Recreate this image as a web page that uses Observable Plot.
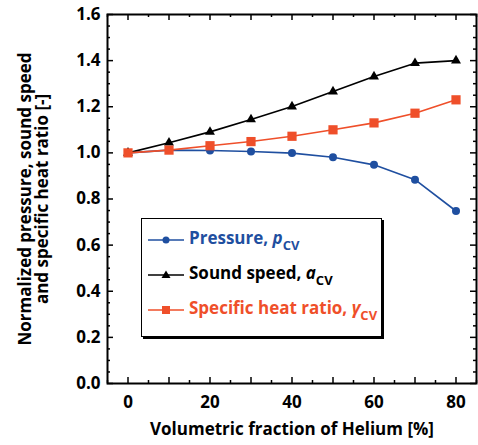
<!DOCTYPE html>
<html><head><meta charset="utf-8">
<script src="https://cdn.jsdelivr.net/npm/d3@7"></script>
<script src="https://cdn.jsdelivr.net/npm/@observablehq/plot@0.6"></script>
<style>
body{margin:0;background:#fff;}
#wrap{position:relative;width:478px;height:445px;font-family:"Open Sans",sans-serif;font-weight:700;}
#legend{position:absolute;left:141px;top:218px;width:239px;height:117px;border:1px solid #000;box-shadow:2px 2px 0 #000;background:#fff;}
.row{position:absolute;left:6px;height:26px;display:flex;align-items:center;font-size:17px;white-space:nowrap;}
.row svg{margin-right:5px;}
.row sub{font-size:13px;vertical-align:-6px;font-style:normal;}
.row i{font-style:italic;}
</style>
</head><body>
<div id="wrap"></div>
<script>
const helium = [0, 10, 20, 30, 40, 50, 60, 70, 80];
const pressure = [1.0, 1.012, 1.010, 1.006, 0.999, 0.981, 0.948, 0.884, 0.748];
const soundSpeed = [1.0, 1.044, 1.091, 1.145, 1.201, 1.266, 1.331, 1.389, 1.400];
const heatRatio = [1.0, 1.012, 1.031, 1.049, 1.072, 1.100, 1.130, 1.172, 1.230];
const xTickLabels = [0, 20, 40, 60, 80];
const yTickLabels = [0, 0.2, 0.4, 0.6, 0.8, 1.0, 1.2, 1.4, 1.6];
const seriesNames = ["Pressure", "Sound speed", "Specific heat ratio"];
const colors = {blue: "#1f4fa0", black: "#000000", red: "#ef4f2a"};

const W = 478, H = 445, mT = 14, mB = 62, mL = 107, mR = 2;
const innerH = H - mT - mB, innerW = W - mL - mR;

const rows = (vals) => helium.map((x, i) => ({x, y: vals[i]}));
const pData = rows(pressure), sData = rows(soundSpeed), hData = rows(heatRatio);

const xMajor = d3.range(0, 81, 10), xMinor = d3.range(-5, 86, 10);
const yMajor = d3.range(0, 9).map(v => +(v * 0.2).toFixed(2));
const yMinor = d3.range(0, 33).filter(v => v % 4 !== 0).map(v => +(v * 0.05).toFixed(2));

const tickStyle = {stroke: "black", strokeWidth: 1.5};
const plot = Plot.plot({
  width: W, height: H,
  marginTop: mT, marginBottom: mB, marginLeft: mL, marginRight: mR,
  style: {fontFamily: "'Open Sans', sans-serif", fontWeight: 700, fontSize: "17px", color: "black", background: "white"},
  x: {domain: [-5, 85]},
  y: {domain: [0, 1.6]},
  marks: [
    Plot.axisX(xTickLabels, {tickSize: 0, tickPadding: 12, fontSize: 17, fontWeight: 700, label: null}),
    Plot.axisY(yTickLabels, {tickSize: 0, tickPadding: 7, fontSize: 17, fontWeight: 700, label: null, tickFormat: d => d.toFixed(1)}),
    // inward ticks on all sides
    Plot.tickX(xMajor, {x: d => d, insetTop: innerH - 6, ...tickStyle}),
    Plot.tickX(xMajor, {x: d => d, insetBottom: innerH - 6, ...tickStyle}),
    Plot.tickX(xMinor, {x: d => d, insetTop: innerH - 3, ...tickStyle}),
    Plot.tickX(xMinor, {x: d => d, insetBottom: innerH - 3, ...tickStyle}),
    Plot.tickY(yMajor, {y: d => d, insetRight: innerW - 6, ...tickStyle}),
    Plot.tickY(yMajor, {y: d => d, insetLeft: innerW - 6, ...tickStyle}),
    Plot.tickY(yMinor, {y: d => d, insetRight: innerW - 3, ...tickStyle}),
    Plot.tickY(yMinor, {y: d => d, insetLeft: innerW - 3, ...tickStyle}),
    // series
    Plot.line(pData, {x: "x", y: "y", stroke: colors.blue, strokeWidth: 1.6}),
    Plot.dot(pData, {x: "x", y: "y", fill: colors.blue, r: 4, symbol: "circle"}),
    Plot.line(sData, {x: "x", y: "y", stroke: colors.black, strokeWidth: 1.6}),
    Plot.dot(sData, {x: "x", y: "y", fill: colors.black, r: 3.7, symbol: "triangle"}),
    Plot.line(hData, {x: "x", y: "y", stroke: colors.red, strokeWidth: 1.6}),
    Plot.dot(hData, {x: "x", y: "y", fill: colors.red, r: 5.2, symbol: "square"}),
    Plot.frame({stroke: "black", strokeWidth: 2}),
    // axis labels
    Plot.text(["Volumetric fraction of Helium [%]"], {frameAnchor: "bottom", dy: 46, lineAnchor: "middle", textAnchor: "middle", fontSize: 17, fontWeight: 700, fill: "black"}),
    Plot.text(["Normalized pressure, sound speed\nand specific heat ratio [-]"], {frameAnchor: "left", dx: -73, rotate: -90, lineAnchor: "middle", textAnchor: "middle", lineHeight: 1.0, fontSize: 17, fontWeight: 700, fill: "black"})
  ]
});
const wrap = document.getElementById("wrap");
wrap.appendChild(plot);

// legend
const legend = document.createElement("div");
legend.id = "legend";
const entries = [
  {name: seriesNames[0], sym: "p", color: colors.blue, marker: "circle", top: 8},
  {name: seriesNames[1], sym: "a", color: colors.black, marker: "triangle", top: 43},
  {name: seriesNames[2], sym: "γ", color: colors.red, marker: "square", top: 78}
];
for (const e of entries) {
  const row = document.createElement("div");
  row.className = "row";
  row.style.top = e.top + "px";
  row.style.color = e.color;
  let m;
  if (e.marker === "circle") m = `<circle cx="18" cy="8" r="3.5" fill="${e.color}"/>`;
  else if (e.marker === "triangle") m = `<path d="M18,3.5 L22.5,11 L13.5,11 Z" fill="${e.color}"/>`;
  else m = `<rect x="14" y="4" width="8" height="8" fill="${e.color}"/>`;
  row.innerHTML = `<svg width="36" height="16"><line x1="0" y1="8" x2="36" y2="8" stroke="${e.color}" stroke-width="1.5"/>${m}</svg><span>${e.name}, <i>${e.sym}</i><sub>CV</sub></span>`;
  legend.appendChild(row);
}
wrap.appendChild(legend);
</script>
</body></html>
